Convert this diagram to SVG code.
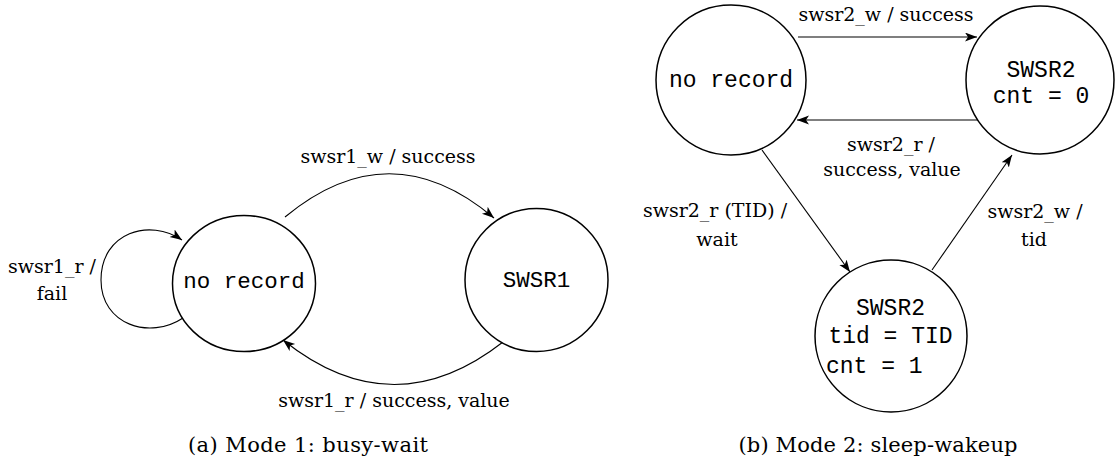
<svg xmlns="http://www.w3.org/2000/svg" width="1115" height="463" viewBox="0 0 1115 463">
<defs>
<marker id="arr" markerUnits="userSpaceOnUse" markerWidth="14" markerHeight="12" refX="12" refY="4.5" orient="auto">
<path d="M0,0 L12,4.5 L0,9 L3,4.5 Z" fill="#000"/>
</marker>
<style>
.node{fill:#fff;stroke:#000;stroke-width:1.5}
.edge{fill:none;stroke:#000;stroke-width:1.1;marker-end:url(#arr)}
.lbl{font-family:"DejaVu Serif","Liberation Serif",serif;font-size:19px;fill:#000;text-anchor:middle}
.mono{font-family:"Liberation Mono","DejaVu Sans Mono",monospace;fill:#000;text-anchor:middle}
.m1{font-size:22.5px}
.m2{font-size:23px}
.cap{font-family:"DejaVu Serif","Liberation Serif",serif;font-size:21px;fill:#000;text-anchor:middle}
</style>
</defs>
<rect width="1115" height="463" fill="#fff"/>

<g id="connectors">
<path class="edge" d="M183,318 C150,340 101,325 101,280 C101,232 150,218 182,240"/>
<path class="edge" d="M285,217 Q390,130 494,218"/>
<path class="edge" d="M503,342 Q393,428 283,340"/>
<path class="edge" d="M798,37 L977,37"/>
<path class="edge" d="M978,120 L797,120"/>
<path class="edge" d="M762,150 L850,272"/>
<path class="edge" d="M932,270 L1012,155"/>
</g>

<g id="labels">
<text class="lbl" x="52" y="273">swsr1_r /</text>
<text class="lbl" x="52" y="300">fail</text>
<text class="lbl" x="388" y="163">swsr1_w / success</text>
<text class="lbl" x="394" y="407">swsr1_r / success, value</text>
<text class="lbl" x="886" y="21">swsr2_w / success</text>
<text class="lbl" x="891" y="151">swsr2_r /</text>
<text class="lbl" x="892" y="176">success, value</text>
<text class="lbl" x="715" y="217">swsr2_r (TID) /</text>
<text class="lbl" x="717" y="246">wait</text>
<text class="lbl" x="1035" y="218">swsr2_w /</text>
<text class="lbl" x="1034" y="246">tid</text>
</g>

<g id="node-a-norecord">
<ellipse class="node" cx="244" cy="283.5" rx="71.5" ry="68"/>
<text class="mono m1" x="244" y="288">no record</text>
</g>
<g id="node-a-swsr1">
<ellipse class="node" cx="536.5" cy="280" rx="71.5" ry="71.5"/>
<text class="mono m1" x="536.5" y="287">SWSR1</text>
</g>

<g id="node-b-norecord">
<circle class="node" cx="731" cy="80" r="75"/>
<text class="mono m2" x="731" y="87">no record</text>
</g>
<g id="node-b-swsr2-cnt0">
<circle class="node" cx="1040" cy="80" r="74"/>
<text class="mono m2" x="1041" y="77">SWSR2</text>
<text class="mono m2" x="1041" y="103">cnt = 0</text>
</g>
<g id="node-b-swsr2-tid">
<circle class="node" cx="891" cy="336" r="76"/>
<text class="mono m2" x="890.5" y="315">SWSR2</text>
<text class="mono m2" x="890.5" y="343">tid = TID</text>
<text class="mono m2" x="826" y="373" style="text-anchor:start">cnt = 1</text>
</g>

<g id="captions">
<text class="cap" x="308" y="452" textLength="240" lengthAdjust="spacing">(a) Mode 1: busy-wait</text>
<text class="cap" x="878" y="452" textLength="279" lengthAdjust="spacing">(b) Mode 2: sleep-wakeup</text>
</g>
</svg>
